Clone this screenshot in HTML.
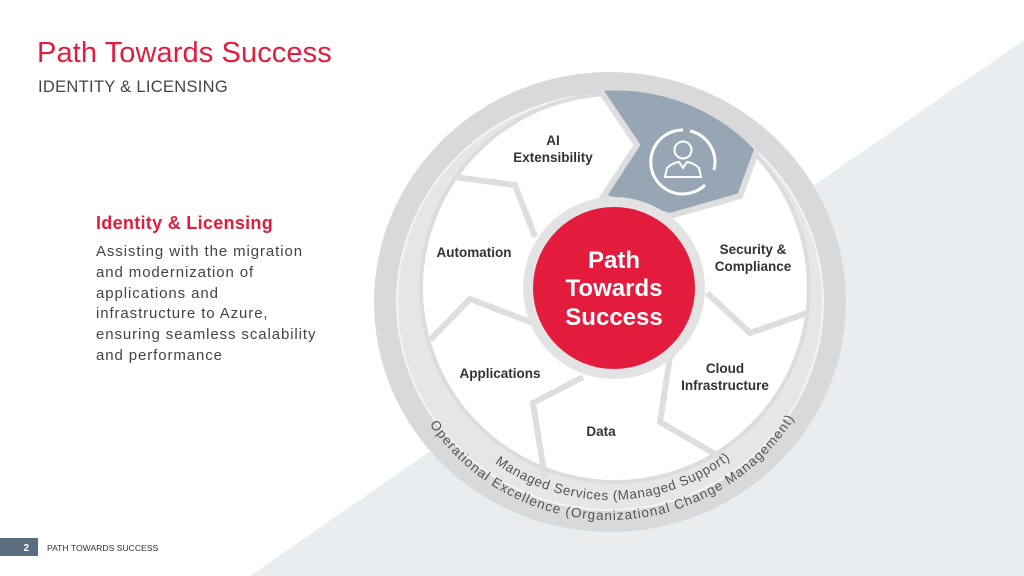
<!DOCTYPE html>
<html><head><meta charset="utf-8"><style>
html,body{margin:0;padding:0;}
body{width:1024px;height:576px;position:relative;overflow:hidden;background:#fff;font-family:"Liberation Sans",sans-serif;}
.t{position:absolute;white-space:nowrap;}
</style></head><body>
<svg width="1024" height="576" style="position:absolute;left:0;top:0" xmlns="http://www.w3.org/2000/svg">
<polygon points="250,576 1024,40 1024,576" fill="#eaedf0"/>
<ellipse cx="610" cy="302" rx="236" ry="230" fill="#d9d9d9"/>
<ellipse cx="610" cy="302" rx="214" ry="209" fill="#f4f4f4"/>
<ellipse cx="610" cy="302" rx="212" ry="207" fill="#e6e6e6"/>
<circle cx="615" cy="288" r="196" fill="#dcdcdc"/>
<circle cx="615" cy="288" r="192" fill="#fff"/>
<path d="M602,91 L638,145 L605,195 L670,215 L740,195 L755,150 A192 192 0 0 0 602,91 Z" fill="#97a6b5"/>
<g fill="none" stroke="#dedede" stroke-width="6" stroke-linejoin="miter">
<polyline points="600,90 637,145 603,197 670,216 740,196 757,150"/>
<polyline points="455,177 515,185 535,237"/>
<polyline points="430,340 470,299 533,323"/>
<polyline points="583,377 533,403 545,478"/>
<polyline points="670,357 660,422 720,457"/>
<polyline points="707,293 750,333 807,313"/>
</g>
<g fill="none" stroke="#fff" stroke-width="3">
<path d="M683,130 A32 32 0 1 0 705,185"/>
<path d="M690,131 A32 32 0 0 1 714,170"/>
<circle cx="683" cy="150" r="8.5" stroke-width="2"/>
<path d="M665,177 L667,168 Q672,163 679,162 L683,168 L687,162 Q694,163 699,168 L701,177 Z" stroke-width="2"/>
</g>
<circle cx="614" cy="288" r="91" fill="#e3e3e3"/>
<circle cx="614" cy="288" r="81" fill="#e31b3c"/>
<g font-family="Liberation Sans, sans-serif" font-weight="bold" fill="#fff" font-size="24" text-anchor="middle">
<text x="614" y="268">Path</text><text x="614" y="296">Towards</text><text x="614" y="325">Success</text>
</g>
<g font-family="Liberation Sans, sans-serif" font-weight="bold" fill="#333" font-size="13.5" text-anchor="middle">
<text x="553" y="145">AI</text><text x="553" y="162">Extensibility</text>
<text x="474" y="257">Automation</text>
<text x="753" y="254">Security &amp;</text><text x="753" y="271">Compliance</text>
<text x="500" y="378">Applications</text>
<text x="725" y="373">Cloud</text><text x="725" y="390">Infrastructure</text>
<text x="601" y="436">Data</text>
</g>
<defs>
<path id="a1" d="M412,302 A196 196 0 0 0 808,302"/>
<path id="a2" d="M392,302 A217 217 0 0 0 828,302"/>
</defs>
<g font-family="Liberation Sans, sans-serif" fill="#555" font-size="13.5">
<text><textPath href="#a1" startOffset="50.5%" text-anchor="middle" textLength="252">Managed Services (Managed Support)</textPath></text>
<text><textPath href="#a2" startOffset="50.5%" text-anchor="middle" textLength="432">Operational Excellence (Organizational Change Management)</textPath></text>
</g>
<rect x="0" y="538" width="38" height="18" fill="#5b6e80"/>
<text x="29" y="551" font-family="Liberation Sans, sans-serif" font-weight="bold" font-size="10" fill="#fff" text-anchor="end">2</text>
<text x="47" y="551" font-family="Liberation Sans, sans-serif" font-size="8.6" fill="#333">PATH TOWARDS SUCCESS</text>
</svg>
<div class="t" style="left:37px;top:37px;font-size:29px;color:#e31b3c;letter-spacing:0.1px;">Path Towards Success</div>
<div class="t" style="left:38px;top:78px;font-size:16.5px;color:#444;letter-spacing:0.3px;">IDENTITY &amp; LICENSING</div>
<div class="t" style="left:96px;top:213px;font-size:18px;font-weight:bold;color:#e31b3c;letter-spacing:0.3px;">Identity &amp; Licensing</div>
<div class="t" style="left:96px;top:242px;font-size:15px;line-height:20.8px;color:#444;letter-spacing:0.9px;">Assisting with the migration<br>and modernization of<br>applications and<br>infrastructure to Azure,<br>ensuring seamless scalability<br>and performance</div>
</body></html>
